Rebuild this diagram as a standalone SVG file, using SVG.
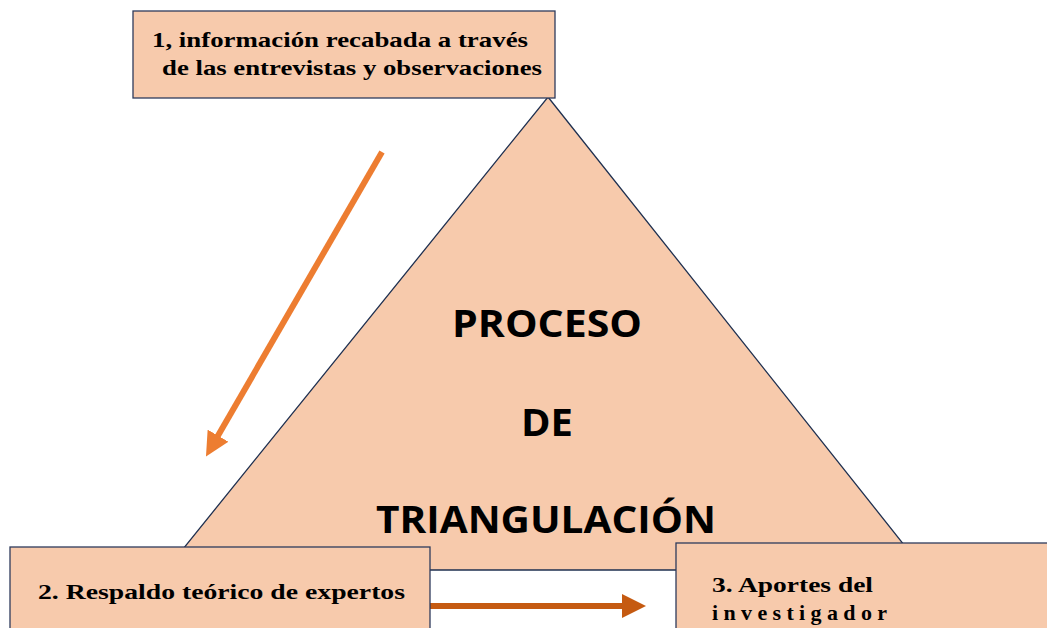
<svg xmlns="http://www.w3.org/2000/svg" width="1047" height="628" viewBox="0 0 1047 628">
<defs>
<style>
.box{fill:#F7CAAC;stroke:#2E3B5C;stroke-width:1.3}
.tri{fill:#F7CAAC;stroke:#1F3050;stroke-width:1.3}
.st{font-family:"Liberation Serif","Times New Roman",serif;font-weight:bold;font-size:22px;fill:#000}
.big{font-family:"Open Sans","Liberation Sans",sans-serif;font-weight:bold;font-size:37px;fill:#000;text-anchor:middle}
</style>
<marker id="ah1" markerWidth="4" markerHeight="4" refX="2" refY="2" orient="auto" markerUnits="strokeWidth"><path d="M0,0 L4,2 L0,4 z" fill="#ED7D31"/></marker>
<marker id="ah2" markerWidth="4" markerHeight="4" refX="2" refY="2" orient="auto" markerUnits="strokeWidth"><path d="M0,0 L4,2 L0,4 z" fill="#C55A11"/></marker>
</defs>
<rect width="1047" height="628" fill="#fff"/>
<g id="triangle">
<polygon class="tri" points="548,97 924,570 166,570"/>
<text class="big" x="547" y="337" textLength="190" lengthAdjust="spacingAndGlyphs">PROCESO</text>
<text class="big" x="547" y="436" textLength="52" lengthAdjust="spacingAndGlyphs">DE</text>
<text class="big" x="546" y="533" textLength="340" lengthAdjust="spacingAndGlyphs">TRIANGULACIÓN</text>
</g>
<g id="connectors">
<line x1="382" y1="152" x2="212" y2="446" stroke="#ED7D31" stroke-width="6" marker-end="url(#ah1)"/>
<line x1="430" y1="606" x2="634" y2="606" stroke="#C55A11" stroke-width="6" marker-end="url(#ah2)"/>
</g>
<g id="node1">
<rect class="box" x="133" y="11" width="422" height="87"/>
<text class="st" x="152" y="47" textLength="376" lengthAdjust="spacingAndGlyphs">1, información recabada a través</text>
<text class="st" x="162" y="75" textLength="380" lengthAdjust="spacingAndGlyphs">de las entrevistas y observaciones</text>
</g>
<g id="node2">
<rect class="box" x="10" y="547" width="420" height="90"/>
<text class="st" x="38" y="599" textLength="367" lengthAdjust="spacingAndGlyphs">2. Respaldo teórico de expertos</text>
</g>
<g id="node3">
<rect class="box" x="676" y="543" width="380" height="95"/>
<text class="st" x="712" y="592" font-size="23" textLength="161" lengthAdjust="spacingAndGlyphs">3. Aportes del</text>
<text class="st" x="712" y="620" font-size="23" textLength="175">investigador</text>
</g>
</svg>
